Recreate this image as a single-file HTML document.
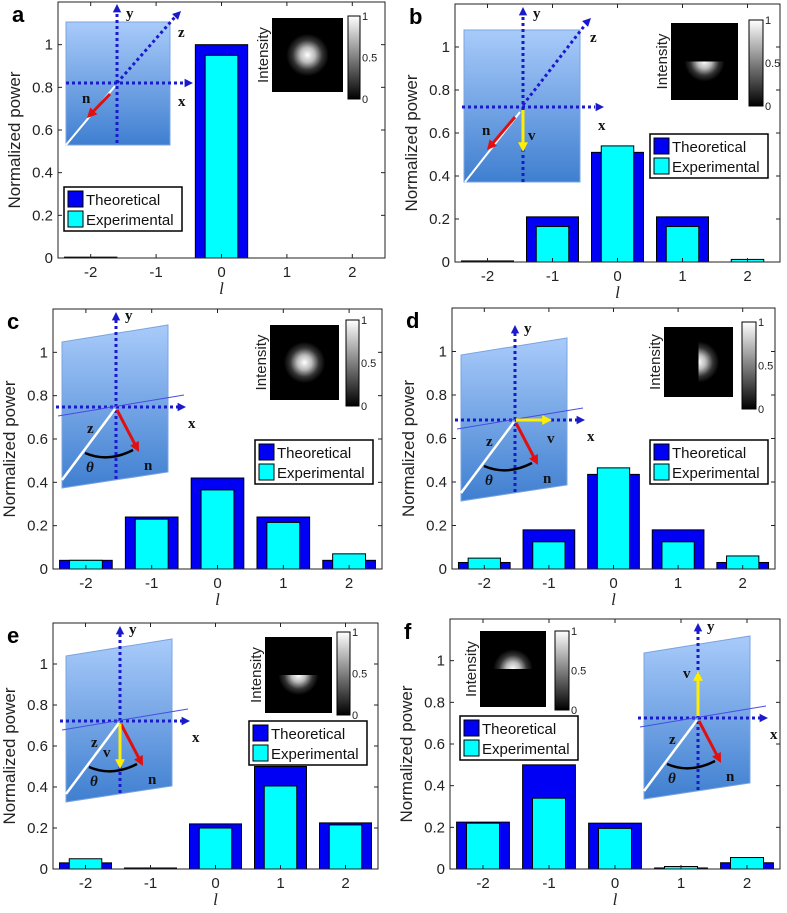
<!DOCTYPE html>
<html><head><meta charset="utf-8"><style>
html,body{margin:0;padding:0;background:#fff;}
svg{display:block;font-family:"Liberation Sans",sans-serif;}
</style></head><body>
<svg id="fig" width="787" height="913" viewBox="0 0 787 913">
<defs>
<linearGradient id="planeG" x1="0" y1="0" x2="0" y2="1"><stop offset="0" stop-color="#a9cbfa"/><stop offset="1" stop-color="#3f7fd0"/></linearGradient>
<linearGradient id="cbG" x1="0" y1="0" x2="0" y2="1"><stop offset="0" stop-color="#fff"/><stop offset="1" stop-color="#000"/></linearGradient>
<radialGradient id="spotG"><stop offset="0" stop-color="#fff"/><stop offset="0.35" stop-color="#bbb"/><stop offset="0.7" stop-color="#333"/><stop offset="1" stop-color="#000"/></radialGradient>
</defs>
</svg>
<script>
const categories=[-2,-1,0,1,2];
const yTicks=[0,0.2,0.4,0.6,0.8,1];
const yTickLabels=["0","0.2","0.4","0.6","0.8","1"];
const theoA=[0.004,0,1,0,0];       const expA=[0,0,0.95,0,0];
const theoB=[0.005,0.21,0.51,0.21,0]; const expB=[0,0.165,0.54,0.165,0.012];
const theoC=[0.04,0.24,0.42,0.24,0.04]; const expC=[0.04,0.23,0.365,0.215,0.07];
const theoD=[0.03,0.18,0.435,0.18,0.03]; const expD=[0.05,0.125,0.465,0.125,0.06];
const theoE=[0.03,0.005,0.22,0.5,0.225]; const expE=[0.05,0,0.2,0.405,0.215];
const theoF=[0.225,0.5,0.22,0.005,0.03]; const expF=[0.22,0.34,0.195,0.012,0.055];

const NS="http://www.w3.org/2000/svg";
const svg=document.getElementById('fig');
function mk(tag,attrs,parent,text){const e=document.createElementNS(NS,tag);for(const k in attrs)e.setAttribute(k,attrs[k]);if(text!==undefined)e.textContent=text;(parent||svg).appendChild(e);return e;}

const panels=[
 {id:'a',ox:0,oy:0,box:[58,2,385,258],theo:theoA,exp:expA,leg:[64,187],img:[272,18,71,74],cb:[348,16,12,83],spot:'full',diag:'flatA'},
 {id:'b',ox:390,oy:0,box:[65,4,390,262],theo:theoB,exp:expB,leg:[260,134],img:[281,23,67,77],cb:[359,20,14,86],spot:'lower',diag:'flatB'},
 {id:'c',ox:0,oy:300,box:[53,9,382,269],theo:theoC,exp:expC,leg:[255,140],img:[270,25,69,75],cb:[346,20,13,86],spot:'full',diag:'tilt',shift:[-9,-13],yel:null},
 {id:'d',ox:390,oy:300,box:[62,8,385,269],theo:theoD,exp:expD,leg:[260,140],img:[274,27,69,70],cb:[352,22,14,87],spot:'right',diag:'tilt',shift:[0,0],yel:'right'},
 {id:'e',ox:0,oy:600,box:[53,23,378,269],theo:theoE,exp:expE,leg:[249,121],img:[265,37,67,76],cb:[337,32,13,83],spot:'lower',diag:'tilt',shift:[-5,1],yel:'down'},
 {id:'f',ox:390,oy:600,box:[60,19,390,269],theo:theoF,exp:expF,leg:[70,116],img:[90,31,66,76],cb:[165,31,14,79],spot:'upper',diag:'tilt',shift:[183,-2],yel:'up'}
];

function dotted(g,x1,y1,x2,y2,name){const l=mk('line',{x1,y1,x2,y2,stroke:'#1a1acc','stroke-width':3,'stroke-dasharray':'3 3'},g);}
function head(g,x,y,dir,color,size,name){const s=size||7;let p;
 const a=Math.atan2(dir[1],dir[0]);const bx=x-Math.cos(a)*s*1.4,by=y-Math.sin(a)*s*1.4;const px=-Math.sin(a)*s*0.7,py=Math.cos(a)*s*0.7;
 p=mk('polygon',{points:`${x},${y} ${bx+px},${by+py} ${bx-px},${by-py}`,fill:color},g);}
function arrow(g,x1,y1,x2,y2,color,w,name){const l=mk('line',{x1,y1,x2:x2-(x2-x1)*0.12,y2:y2-(y2-y1)*0.12,stroke:color,'stroke-width':w},g);head(g,x2,y2,[x2-x1,y2-y1],color,7,name+'-head');}
function lab(g,x,y,t,name,it){const e=mk('text',{x,y,'font-family':'"Liberation Serif",serif','font-weight':'bold','font-size':15,'font-style':it?'italic':'normal',fill:'#111'},g,t);}

panels.forEach(P=>{
 const g=mk('g',{transform:`translate(${P.ox},${P.oy})`});
 
 const [x0,y0,x1,y1]=P.box;
 const xs=v=>x0+(v+2.5)/5*(x1-x0);
 const ys=v=>y1-v/1.2*(y1-y0);
 const sp=(x1-x0)/5;
 // bars
 categories.forEach((c,i)=>{
  const t=P.theo[i],e=P.exp[i];
  if(t>0){const r=mk('rect',{x:xs(c)-sp*0.4,y:ys(t),width:sp*0.8,height:ys(0)-ys(t),fill:'#0000f5',stroke:'#000','stroke-width':1},g);
   }
  if(e>0){const r=mk('rect',{x:xs(c)-sp*0.25,y:ys(e),width:sp*0.5,height:ys(0)-ys(e),fill:'#00ffff',stroke:'#000','stroke-width':1},g);
   }
 });
 // box
 const fr=mk('rect',{x:x0,y:y0,width:x1-x0,height:y1-y0,fill:'none',stroke:'#222','stroke-width':1},g);
 
 categories.forEach(c=>{
  mk('line',{x1:xs(c),y1:y1,x2:xs(c),y2:y1-4,stroke:'#222'},g);mk('line',{x1:xs(c),y1:y0,x2:xs(c),y2:y0+4,stroke:'#222'},g);
  const t=mk('text',{x:xs(c),y:y1+19,'text-anchor':'middle','font-size':15,fill:'#222'},g,String(c));
  
 });
 yTicks.forEach((v,i)=>{
  mk('line',{x1:x0,y1:ys(v),x2:x0+4,y2:ys(v),stroke:'#222'},g);mk('line',{x1:x1,y1:ys(v),x2:x1-4,y2:ys(v),stroke:'#222'},g);
  const t=mk('text',{x:x0-5,y:ys(v)+5,'text-anchor':'end','font-size':15,fill:'#222'},g,yTickLabels[i]);
  
 });
 const yt=mk('text',{transform:`translate(${x0-38},${(y0+y1)/2+10}) rotate(-90)`,'text-anchor':'middle','font-size':17,fill:'#222'},g,'Normalized power');
 
 const xt=mk('text',{x:(x0+x1)/2,y:y1+36,'text-anchor':'middle','font-size':17,'font-style':'italic','font-family':'"Liberation Serif",serif',fill:'#222'},g,'l');
 
 const pl=mk('text',{x:x0-46+(P.id==='a'?0:0),y:y0+20,'font-size':22,'font-weight':'bold',fill:'#000'},g,P.id);
 

 // diagram
 const dg=mk('g',{},g);
 if(P.diag==='flatA'){
  mk('rect',{x:66,y:22,width:104,height:123,fill:'url(#planeG)',stroke:'#7aa4e0'},dg);
  dotted(dg,117,143,117,10,'y-axis-arrow');head(dg,117,4,[0,-1],'#1a1acc',6,'y-head');
  dotted(dg,66,83,186,83,'x-axis-arrow');head(dg,193,83,[1,0],'#1a1acc',6,'x-head');
  dotted(dg,117,83,175,17,'z-axis-arrow');head(dg,181,11,[1,-1],'#1a1acc',6,'z-head');
  mk('line',{x1:66,y1:145,x2:115,y2:86,stroke:'#fff','stroke-width':2},dg);
  arrow(dg,110,94,87,118,'#e01010',3,'n-arrow');
  lab(dg,126,18,'y','y-label');lab(dg,178,37,'z','z-label');lab(dg,178,106,'x','x-label');lab(dg,82,103,'n','n-label');
 } else if(P.diag==='flatB'){
  mk('rect',{x:74,y:30,width:116,height:152,fill:'url(#planeG)',stroke:'#7aa4e0'},dg);
  dotted(dg,133,182,133,14,'y-axis-arrow');head(dg,133,7,[0,-1],'#1a1acc',6,'y-head');
  dotted(dg,72,107,205,107,'x-axis-arrow');head(dg,214,107,[1,0],'#1a1acc',6,'x-head');
  dotted(dg,133,105,195,25,'z-axis-arrow');head(dg,201,18,[1,-1],'#1a1acc',6,'z-head');
  mk('line',{x1:75,y1:182,x2:130,y2:112,stroke:'#fff','stroke-width':2},dg);
  arrow(dg,125,117,97,150,'#e01010',3,'n-arrow');
  arrow(dg,133,110,133,152,'#ffee00',3,'v-arrow');
  lab(dg,143,18,'y','y-label');lab(dg,200,42,'z','z-label');lab(dg,208,130,'x','x-label');lab(dg,92,135,'n','n-label');lab(dg,138,140,'v','v-label');
 } else {
  const [sx,sy]=P.shift;const t=mk('g',{transform:`translate(${sx},${sy})`},dg);
  mk('polygon',{points:'71,55 177,38 177,185 71,201',fill:'url(#planeG)',stroke:'#7aa4e0'},t);
  dotted(t,125,192,125,32,'y-axis-arrow');head(t,125,25,[0,-1],'#1a1acc',6,'y-head');
  dotted(t,65,120,187,120,'x-axis-arrow');head(t,195,120,[1,0],'#1a1acc',6,'x-head');
  mk('line',{x1:67,y1:129,x2:193,y2:108,stroke:'#4a4ae6','stroke-width':1},t);
  mk('line',{x1:71,y1:193,x2:124,y2:122,stroke:'#fff','stroke-width':2.5},t);
  mk('path',{d:'M94,166 Q117,176 142,163',fill:'none',stroke:'#000','stroke-width':2.5},t);
  arrow(t,126,123,148,165,'#e01010',3,'n-arrow');
  if(P.yel==='right')arrow(t,126,120,162,120,'#ffee00',3,'v-arrow');
  if(P.yel==='down')arrow(t,125,123,125,168,'#ffee00',3,'v-arrow');
  if(P.yel==='up')arrow(t,125,118,125,73,'#ffee00',3,'v-arrow');
  lab(t,134,33,'y','y-label');lab(t,197,141,'x','x-label');lab(t,96,146,'z','z-label');lab(t,95,185,'θ','theta-label',true);lab(t,153,183,'n','n-label');
  if(P.yel==='right')lab(t,157,143,'v','v-label');
  if(P.yel==='down')lab(t,108,156,'v','v-label');
  if(P.yel==='up')lab(t,110,80,'v','v-label');
 }

 // intensity inset
 const [ix,iy,iw,ih]=P.img;const ig=mk('g',{},g);
 mk('rect',{x:ix,y:iy,width:iw,height:ih,fill:'#000'},ig);
 const cid='clip'+P.id;const cp=mk('clipPath',{id:cid},svg);
 let cx=ix+iw/2,cy=iy+ih/2,r=iw*0.3;
 if(P.spot==='full')mk('rect',{x:ix,y:iy,width:iw,height:ih},cp);
 if(P.spot==='lower')mk('rect',{x:ix,y:cy,width:iw,height:ih/2},cp);
 if(P.spot==='upper')mk('rect',{x:ix,y:iy,width:iw,height:ih/2},cp);
 if(P.spot==='right')mk('rect',{x:cx,y:iy,width:iw/2,height:ih},cp);
 mk('circle',{cx,cy,r,fill:'url(#spotG)','clip-path':`url(#${cid})`},ig);
 const it=mk('text',{transform:`translate(${ix-4},${iy+ih/2}) rotate(-90)`,'text-anchor':'middle','font-size':15,fill:'#222'},ig,'Intensity');
 
 const [bx,by,bw,bh]=P.cb;
 const cb=mk('rect',{x:bx,y:by,width:bw,height:bh,fill:'url(#cbG)',stroke:'#000'},ig);
 [['1',0],['0.5',0.5],['0',1]].forEach(([s,f])=>{const tt=mk('text',{x:bx+bw+2,y:by+f*bh+4,'font-size':11,fill:'#222'},ig,s);});

 // legend
 const [lx,ly]=P.leg;const lg=mk('g',{},g);
 mk('rect',{x:lx,y:ly,width:118,height:44,fill:'#fff',stroke:'#000','stroke-width':1.5},lg);
 const e1=mk('rect',{x:lx+4,y:ly+4,width:15,height:16,fill:'#0000f5',stroke:'#000'},lg);
 const e2=mk('rect',{x:lx+4,y:ly+24,width:15,height:16,fill:'#00ffff',stroke:'#000'},lg);
 const l1=mk('text',{x:lx+22,y:ly+18,'font-size':15,fill:'#111'},lg,'Theoretical');
 const l2=mk('text',{x:lx+22,y:ly+38,'font-size':15,fill:'#111'},lg,'Experimental');
});
</script>
</body></html>
